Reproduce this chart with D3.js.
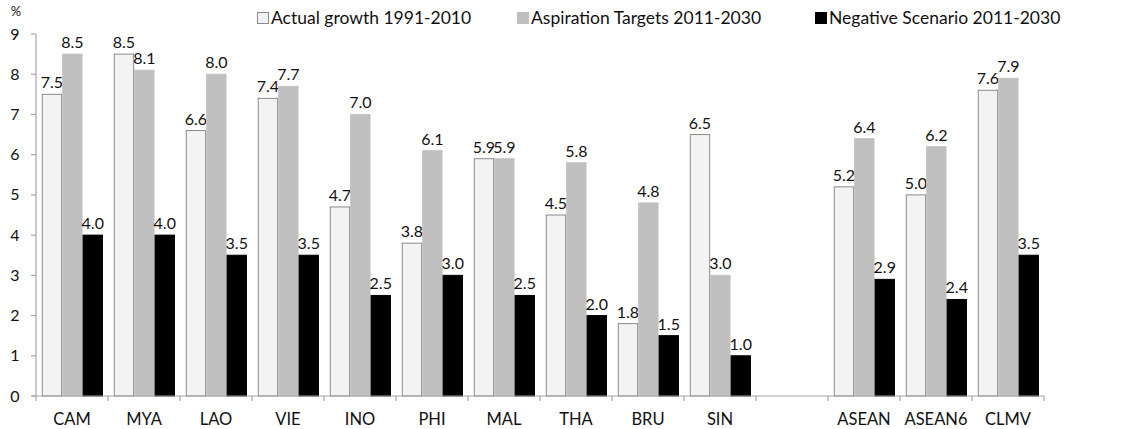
<!DOCTYPE html>
<html>
<head>
<meta charset="utf-8">
<script src="https://cdn.jsdelivr.net/npm/d3@7"></script>
<style>
  html, body { margin: 0; padding: 0; background: #fff; }
  svg { display: block; font-family: "Lato", "Open Sans", sans-serif; }
</style>
</head>
<body>
<svg id="chart" width="1138" height="429"></svg>
<script>
const categories = ["CAM", "MYA", "LAO", "VIE", "INO", "PHI", "MAL", "THA", "BRU", "SIN", "", "ASEAN", "ASEAN6", "CLMV"];
const seriesNames = ["Actual growth 1991-2010", "Aspiration Targets 2011-2030", "Negative Scenario 2011-2030"];
const actual     = [7.5, 8.5, 6.6, 7.4, 4.7, 3.8, 5.9, 4.5, 1.8, 6.5, null, 5.2, 5.0, 7.6];
const aspiration = [8.5, 8.1, 8.0, 7.7, 7.0, 6.1, 5.9, 5.8, 4.8, 3.0, null, 6.4, 6.2, 7.9];
const negative   = [4.0, 4.0, 3.5, 3.5, 2.5, 3.0, 2.5, 2.0, 1.5, 1.0, null, 2.9, 2.4, 3.5];
const yTicks = [0, 1, 2, 3, 4, 5, 6, 7, 8, 9];

const seriesValues = [actual, aspiration, negative];
const fills = ["#f2f3f5", "#bfbfbf", "#000000"];
const strokes = ["#8a8a8a", "#c4c4c4", "#000000"];

const svg = d3.select("#chart");
const mLeft = 36, mRight = 1044, mTop = 34, mBottom = 396;

const x0 = d3.scaleBand().domain(d3.range(categories.length)).range([mLeft, mRight]).padding(0);
const x1 = d3.scaleBand().domain(d3.range(3))
  .range([x0.bandwidth() * 0.08, x0.bandwidth() * 0.93]).padding(0);
const y = d3.scaleLinear().domain([0, 9]).range([mBottom, mTop]);

// bars
seriesValues.forEach((vals, s) => {
  const g = svg.append("g");
  vals.forEach((v, i) => {
    if (v == null) return;
    const bx = x0(i) + x1(s);
    g.append("rect")
      .attr("x", bx + 0.5)
      .attr("y", y(v))
      .attr("width", x1.bandwidth() - 1)
      .attr("height", y(0) - y(v))
      .attr("fill", fills[s])
      .attr("stroke", strokes[s])
      .attr("stroke-width", 1);
    svg.append("text")
      .attr("x", bx + x1.bandwidth() / 2)
      .attr("y", y(v) - 6)
      .attr("text-anchor", "middle")
      .attr("font-size", 16)
      .attr("fill", "#111")
      .text(v.toFixed(1));
  });
});

// y axis
const yAxis = svg.append("g");
yAxis.append("line").attr("x1", mLeft).attr("x2", mLeft).attr("y1", y(9)).attr("y2", y(0))
  .attr("stroke", "#a6a6a6").attr("stroke-width", 1.2);
yTicks.forEach(t => {
  yAxis.append("line").attr("x1", mLeft - 5).attr("x2", mLeft).attr("y1", y(t)).attr("y2", y(t))
    .attr("stroke", "#a6a6a6").attr("stroke-width", 1.2);
  yAxis.append("text").attr("x", 15).attr("y", y(t) + 5.5).attr("text-anchor", "middle")
    .attr("font-size", 16).attr("fill", "#111").text(t);
});
svg.append("text").attr("x", 16).attr("y", 16).attr("text-anchor", "middle")
  .attr("font-size", 13).attr("fill", "#111").text("%");

// x axis
const xAxis = svg.append("g");
xAxis.append("line").attr("x1", mLeft - 4).attr("x2", mRight).attr("y1", y(0)).attr("y2", y(0))
  .attr("stroke", "#a6a6a6").attr("stroke-width", 1.2);
d3.range(categories.length + 1).forEach(i => {
  const xx = i < categories.length ? x0(i) : mRight;
  xAxis.append("line").attr("x1", xx).attr("x2", xx).attr("y1", y(0)).attr("y2", y(0) + 5)
    .attr("stroke", "#a6a6a6").attr("stroke-width", 1.2);
});
categories.forEach((c, i) => {
  xAxis.append("text").attr("x", x0(i) + x0.bandwidth() / 2).attr("y", 425)
    .attr("text-anchor", "middle").attr("font-size", 16.5).attr("fill", "#111").text(c);
});

// legend
const legendX = [257, 517, 815];
seriesNames.forEach((n, s) => {
  svg.append("rect").attr("x", legendX[s] + 0.5).attr("y", 12.5).attr("width", 11).attr("height", 11)
    .attr("fill", fills[s]).attr("stroke", s === 0 ? "#8a8a8a" : fills[s]);
  svg.append("text").attr("x", legendX[s] + 14).attr("y", 24)
    .attr("font-size", 17.5).attr("fill", "#111").text(n);
});
</script>
</body>
</html>
